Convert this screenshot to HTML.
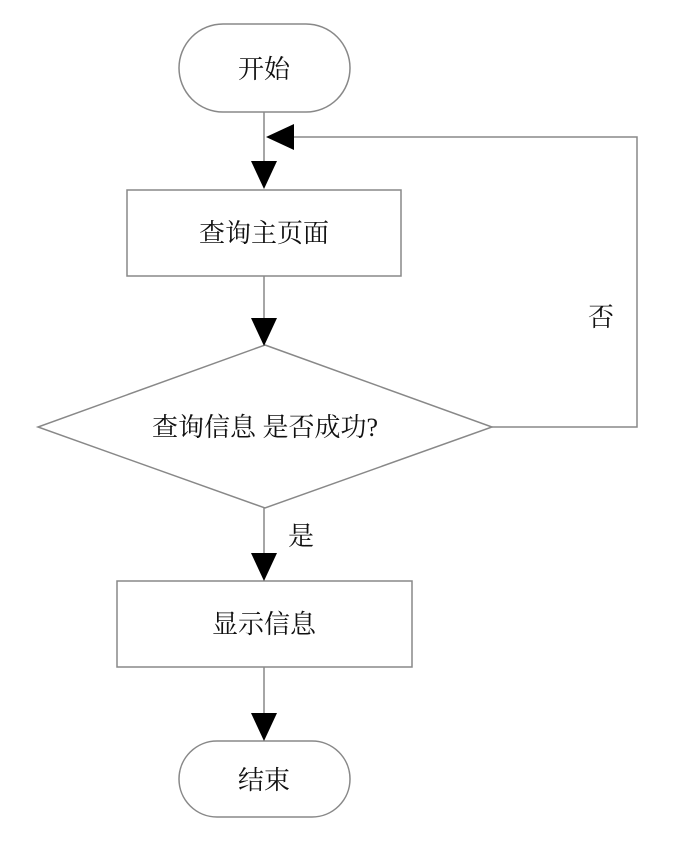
<!DOCTYPE html>
<html><head><meta charset="utf-8"><style>
html,body{margin:0;padding:0;background:#fff;}
text{font-family:"Liberation Serif","Noto Serif CJK SC",serif;font-size:26px;fill:#111;}
</style></head><body>
<svg width="676" height="837" xmlns="http://www.w3.org/2000/svg">
<g fill="none" stroke="#888" stroke-width="1.5">
<rect x="179" y="24" width="171" height="88" rx="44"/>
<rect x="127" y="190" width="274" height="86"/>
<polygon points="265,345 492,427 265,508 38,427"/>
<rect x="117" y="581" width="295" height="86"/>
<rect x="179" y="741" width="171" height="76" rx="38"/>
<line x1="264" y1="112" x2="264" y2="162"/>
<line x1="264" y1="276" x2="264" y2="320"/>
<line x1="264" y1="508" x2="264" y2="555"/>
<line x1="264" y1="667" x2="264" y2="715"/>
<polyline points="492,427 637,427 637,137 292,137"/>
</g>
<g fill="#000">
<polygon points="251,161 277,161 264,189"/>
<polygon points="251,318 277,318 264,346"/>
<polygon points="251,553 277,553 264,581"/>
<polygon points="251,713 277,713 264,741"/>
<polygon points="294,124 294,150 266,137"/>
</g>
<text x="264" y="78" text-anchor="middle">开始</text>
<text x="264" y="242" text-anchor="middle">查询主页面</text>
<text x="265" y="436" text-anchor="middle">查询信息 是否成功?</text>
<text x="264" y="633" text-anchor="middle">显示信息</text>
<text x="264" y="789" text-anchor="middle">结束</text>
<text x="288" y="545">是</text>
<text x="588" y="326">否</text>
</svg>
</body></html>
